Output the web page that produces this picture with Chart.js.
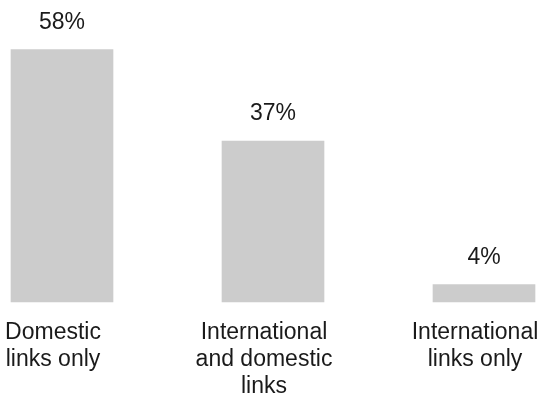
<!DOCTYPE html>
<html>
<head>
<meta charset="utf-8">
<script src="https://cdn.jsdelivr.net/npm/chart.js@4"></script>
<style>
html,body{margin:0;padding:0;background:#fff;}
#wrap{width:546px;height:402px;position:relative;}
</style>
</head>
<body>
<div id="wrap"><canvas id="c" width="546" height="402"></canvas></div>
<script>
const categories = [
  ["Domestic", "links only"],
  ["International", "and domestic", "links"],
  ["International", "links only"]
];
const shares = [58, 37, 4];
const valueLabels = ["58%", "37%", "4%"];

const FONT = "'Liberation Sans', Arial, Helvetica, sans-serif";

const valueLabelPlugin = {
  id: 'valueLabels',
  afterDatasetsDraw(chart) {
    const ctx = chart.ctx;
    const meta = chart.getDatasetMeta(0);
    ctx.save();
    ctx.font = '23px ' + FONT;
    ctx.fillStyle = '#1a1a1a';
    ctx.textAlign = 'center';
    ctx.textBaseline = 'alphabetic';
    meta.data.forEach((bar, i) => {
      ctx.fillText(valueLabels[i], bar.x, bar.y - 21);
    });
    ctx.restore();
  }
};

new Chart(document.getElementById('c'), {
  type: 'bar',
  data: {
    labels: categories,
    datasets: [{
      data: shares,
      backgroundColor: '#cccccc',
      borderWidth: 0,
      barThickness: 102,
      clip: false
    }]
  },
  options: {
    responsive: false,
    animation: false,
    devicePixelRatio: 1,
    layout: { padding: { left: 62, right: 62, top: 41, bottom: -15 } },
    plugins: { legend: { display: false }, tooltip: { enabled: false } },
    scales: {
      x: {
        offset: false,
        grid: { display: false, drawTicks: false },
        border: { display: false },
        afterFit(scale) { scale.paddingLeft = 0; scale.paddingRight = 0; },
        ticks: {
          autoSkip: false,
          maxRotation: 0,
          padding: 17,
          labelOffset: -9,
          color: '#1a1a1a',
          font: { family: FONT, size: 23, lineHeight: 1.174 }
        }
      },
      y: {
        display: false,
        min: 0,
        max: 60
      }
    }
  },
  plugins: [valueLabelPlugin]
});
</script>
</body>
</html>
